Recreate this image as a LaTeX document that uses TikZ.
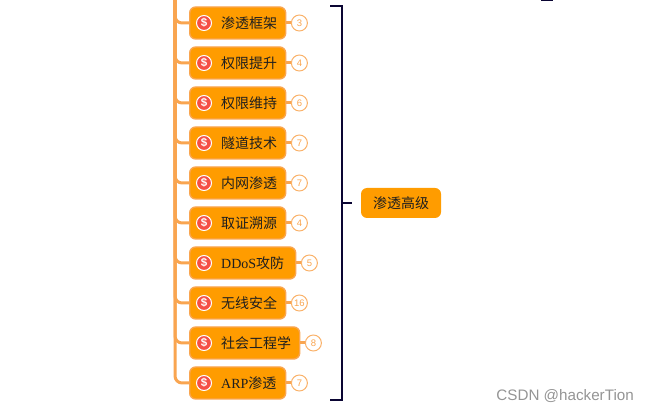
\documentclass[tikz,border=0pt]{standalone}
\usepackage{fontspec}
\newfontfamily\cjk{Noto Sans CJK SC}
\setmainfont{Liberation Serif}
\newfontfamily\helv{Liberation Sans}
\definecolor{nodeorange}{RGB}{255, 156, 0}
\definecolor{edgeorange}{RGB}{249, 165, 80}
\definecolor{bracenavy}{RGB}{10, 5, 51}
\definecolor{iconred}{RGB}{245, 80, 70}
\usetikzlibrary{positioning, calc}

\tikzset{
  topic/.style={draw=edgeorange, fill=nodeorange, line width=1.4pt, rounded corners=6pt, minimum height=32pt, anchor=west, inner sep=0pt},
  badge/.style={circle, draw=edgeorange!85, fill=white, line width=1pt, minimum size=16pt, inner sep=0pt, text=edgeorange, font=\helv\fontsize{9.5}{9.5}\selectfont},
  icon/.style={circle, draw=white, fill=iconred, line width=1pt, minimum size=15pt, inner sep=0pt, text=white, font=\helv\bfseries\fontsize{11.5}{12}\selectfont},
  twig/.style={edgeorange, line width=3pt},
  brace/.style={bracenavy, line width=1.8pt},
  caption/.style={inner sep=0pt, text=black!88, font=\fontsize{14}{14}\selectfont},
}

\begin{document}
\begin{tikzpicture}[x=1pt, y=-1pt]
  \useasboundingbox (0,0) rectangle (648,411);
  \coordinate (trunktop) at (175,-2);
  % the child topics, one row per pass
  \foreach \row/\ypos/\wid/\txt/\num in {
    a/23/96/{\cjk 渗透框架}/3, b/63/96/{\cjk 权限提升}/4, c/103/96/{\cjk 权限维持}/6,
    d/143/96/{\cjk 隧道技术}/7, e/183/96/{\cjk 内网渗透}/7, f/223/96/{\cjk 取证溯源}/4,
    g/263/106/{DDoS{\cjk 攻防}}/5, h/303/96/{\cjk 无线安全}/16,
    i/343/110/{\cjk 社会工程学}/8, j/383/96/{ARP{\cjk 渗透}}/7} {
    \draw[twig, rounded corners=7pt] (trunktop) |- (189,\ypos) coordinate (joint\row);
    \node[topic, minimum width=\wid pt] (topic\row) at (joint\row) {};
    \node[icon] (icon\row) at (204,\ypos) {\$};
    \node[caption, anchor=west] (label\row) at (221,\ypos) {\txt};
    \node[badge, right=4.5pt of topic\row] (count\row) {\num};
    \draw[twig] (topic\row) -- (count\row);
  }
  % the bracket and what it points to
  \node[fill=nodeorange, rounded corners=6pt, minimum width=80pt, minimum height=30pt, inner sep=0pt] (root) at (401,203) {};
  \node[caption] (rootlabel) at (401,203) {\cjk 渗透高级};
  \coordinate (bracetop) at (330,6);
  \coordinate (bracebot) at (330,400);
  \draw[brace] (bracetop) -- (342,6) -- (342,400) -- (bracebot);
  \draw[brace] (342,203) -- (352,203);
  \draw[bracenavy, line width=1.6pt] (541,0) -- (553,0);
  \node[anchor=east, inner sep=0pt, text=black!42, font=\helv\fontsize{15.2}{16}\selectfont] (credit) at (634,396) {CSDN @hackerTion};
\end{tikzpicture}
\end{document}
